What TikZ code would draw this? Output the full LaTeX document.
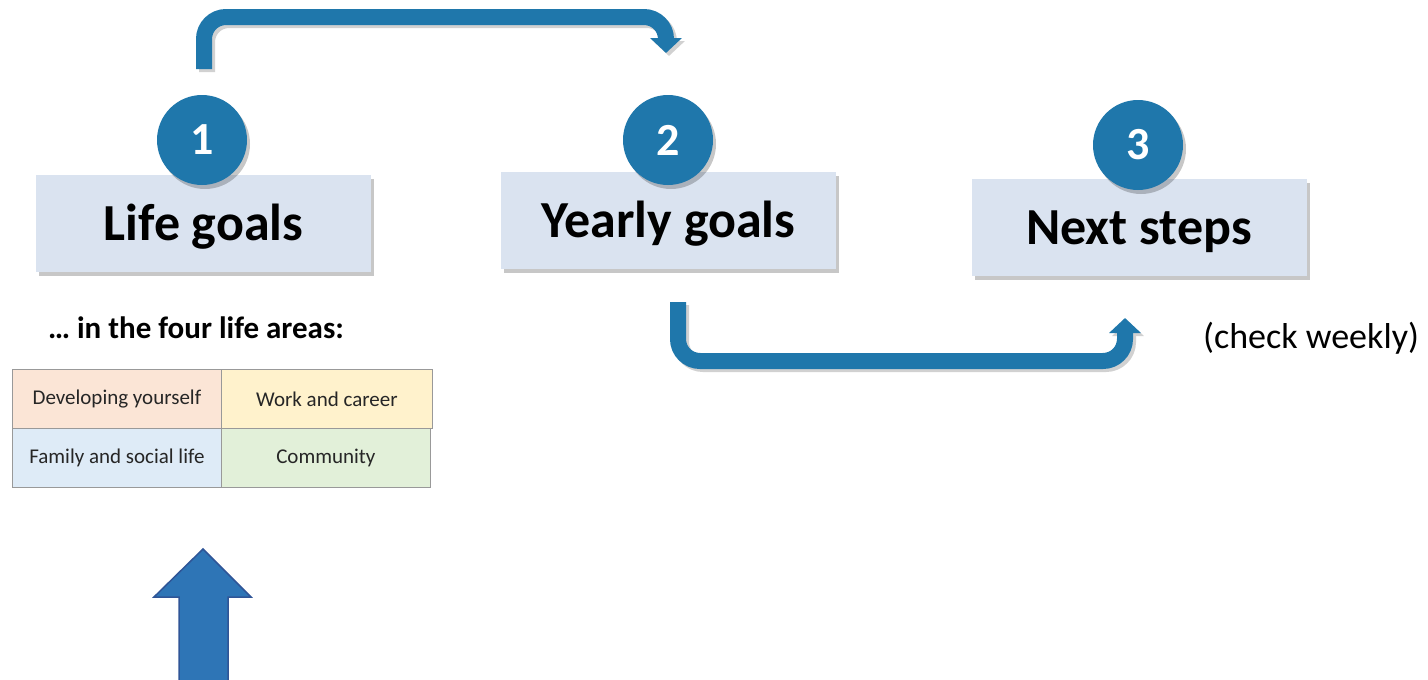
\documentclass[tikz,border=0pt]{standalone}
\usepackage{fontspec}
\setmainfont{Carlito}
\usetikzlibrary{shadows,arrows.meta}
\definecolor{stepblue}{RGB}{31,119,171}
\definecolor{boxfill}{RGB}{218,227,240}
\definecolor{bigblue}{RGB}{46,117,182}
\definecolor{bigedge}{RGB}{47,85,151}
\definecolor{cellpeach}{RGB}{251,229,214}
\definecolor{cellyellow}{RGB}{255,242,204}
\definecolor{cellblue}{RGB}{222,235,247}
\definecolor{cellgreen}{RGB}{226,240,217}
\tikzset{
  softshadow/.style={drop shadow={shadow xshift=3pt,shadow yshift=-4pt,opacity=0.22,fill=black}},
  goalbox/.style={rectangle,fill=boxfill,minimum width=335pt,minimum height=97pt,inner sep=0pt,
    text height=34pt,text depth=0pt,
    font=\fontsize{52}{60}\selectfont\bfseries,softshadow},
  stepnum/.style={circle,fill=stepblue,minimum size=90pt,inner sep=0pt,text=white,
    font=\fontsize{46}{50}\selectfont\bfseries,softshadow},
  flow/.style={draw=stepblue,line width=16pt,rounded corners=22pt,
    -{Triangle[width=31pt,length=15pt]}},
  flowshadow/.style={flow,draw=black!18,transform canvas={shift={(3pt,-3pt)}}},
  areacell/.style={rectangle,draw=black!40,line width=0.8pt,minimum height=59pt,inner sep=0pt,
    anchor=north west,font=\fontsize{21}{24}\selectfont,text=black!85},
}
\begin{document}
\begin{tikzpicture}[x=1pt,y=-1pt]
\useasboundingbox (0,0) rectangle (1428,680);

% goal boxes
\node[goalbox] (life) at (203.5,223) {Life goals};
\node[goalbox] (yearly) at (668.5,220) {Yearly goals};
\node[goalbox] (next) at (1139,227) {Next steps};

% numbered badges
\node[stepnum] (n1) at (202,140) {1};
\node[stepnum] (n2) at (668,140) {2};
\node[stepnum] (n3) at (1138,145) {3};

% flow arrows
\coordinate (topstart) at (204,69);
\coordinate (topend) at (666,53);
\coordinate (botstart) at (678,302);
\coordinate (botend) at (1125,318);
\draw[flowshadow] (topstart) -- (topstart |- 0,17) -- (topend |- 0,17) -- (topend);
\draw[flow] (topstart) -- (topstart |- 0,17) -- (topend |- 0,17) -- (topend);
\draw[flowshadow] (botstart) -- (botstart |- 0,361) -- (botend |- 0,361) -- (botend);
\draw[flow] (botstart) -- (botstart |- 0,361) -- (botend |- 0,361) -- (botend);

% captions
\node[font=\fontsize{31}{34}\selectfont\bfseries] (areas) at (196,328) {… in the four life areas:};
\node[font=\fontsize{36}{40}\selectfont] (weekly) at (1311,338) {(check weekly)};

% life areas table
\node[areacell,fill=cellpeach,minimum width=209pt] (dev) at (12,369) {Developing yourself};
\node[areacell,fill=cellyellow,minimum width=211pt] (work) at (221,369) {Work and career};
\node[areacell,fill=cellblue,minimum width=209pt] (family) at (12,428) {Family and social life};
\node[areacell,fill=cellgreen,minimum width=209pt] (comm) at (221,428) {Community};

% big upward arrow
\draw[fill=bigblue,draw=bigedge,line width=1.5pt,line join=miter]
  (179,684) -- (179,597) -- (154,597) -- (203,549) -- (251,597) -- (228,597) -- (228,684) -- cycle;
\end{tikzpicture}
\end{document}
